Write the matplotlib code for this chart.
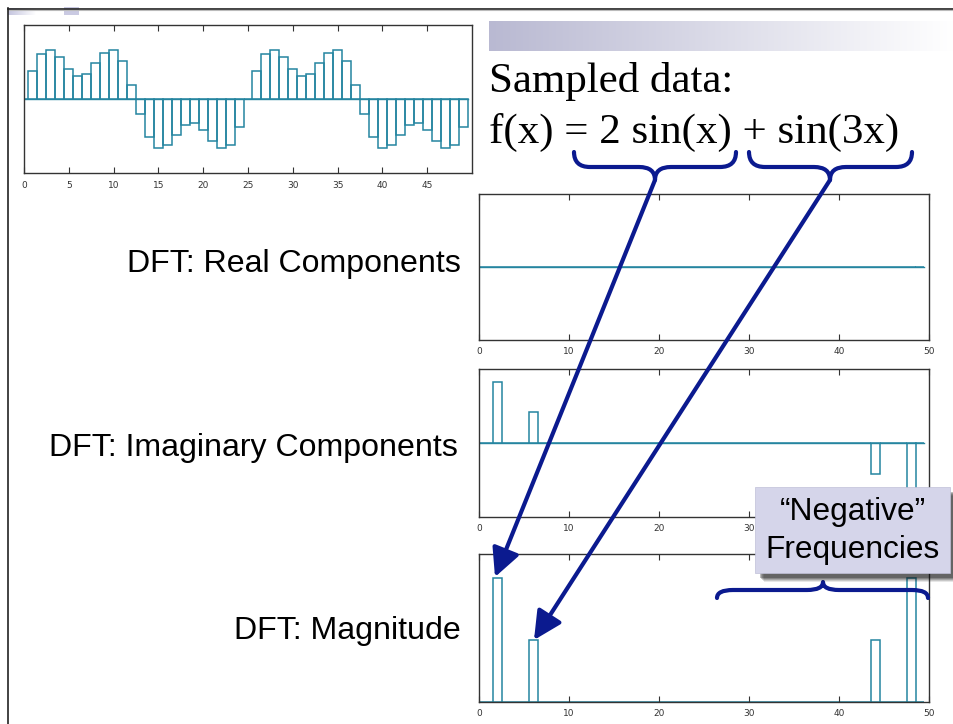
import matplotlib.pyplot as plt
import numpy as np
from matplotlib.path import Path
from matplotlib.patches import PathPatch, Rectangle, FancyArrowPatch

W, H = 954, 724

# sampled signal, one period of 25 samples (repeated twice)
period = [0.0, 1.20, 1.97, 2.14, 1.81, 1.32, 1.01, 1.10, 1.56, 2.00, 2.14, 1.65, 0.61,
          -0.64, -1.65, -2.14, -2.02, -1.58, -1.13, -1.04, -1.33, -1.82, -2.14, -2.00, -1.21]
samples = period + period
sample_ticks = [0, 5, 10, 15, 20, 25, 30, 35, 40, 45]

# DFT of the 50 samples
n_bins = 50
real_part = [0.0] * n_bins
imag_part = [0.0] * n_bins
imag_part[2] = 50
imag_part[6] = 25
imag_part[44] = -25
imag_part[48] = -50
magnitude = [abs(v) for v in imag_part]
dft_ticks = [0, 10, 20, 30, 40, 50]

teal = '#2585a0'
navy = '#0b1a8f'

fig = plt.figure(figsize=(W / 100, H / 100), dpi=100)
fig.patch.set_facecolor('white')


def px_axes(x0, y0, x1, y1, **kw):
    return fig.add_axes([x0 / W, 1 - y1 / H, (x1 - x0) / W, (y1 - y0) / H], **kw)


def style_axes(ax, ticks, ylim):
    ax.set_xlim(0, 50)
    ax.set_ylim(*ylim)
    ax.set_yticks([])
    ax.set_xticks(ticks)
    ax.tick_params(axis='x', direction='in', length=4, width=0.8, top=True,
                   labelsize=6.5, labelcolor='#333333', pad=5, color='#333333')
    for s in ax.spines.values():
        s.set_linewidth(1.0)
        s.set_color('#333333')


def draw_bars(ax, vals, zero_line=True):
    x = np.arange(len(vals))
    ax.bar(x, vals, width=1.0, fill=False, edgecolor=teal, linewidth=1.1)
    if zero_line:
        ax.plot([0, len(vals) - 0.5], [0, 0], color=teal, lw=1.0)


# slide decorations
deco = px_axes(0, 0, W, H, zorder=0)
deco.set_xlim(0, W)
deco.set_ylim(H, 0)
deco.axis('off')
grad = np.linspace(0, 1, 256).reshape(1, -1)
deco.imshow(grad, extent=(489, W, 51, 21), cmap=plt.matplotlib.colors.LinearSegmentedColormap.from_list(
    'hdr', ['#b9b9d2', '#ffffff']), aspect='auto')
deco.imshow(grad, extent=(8, 36, 15, 8), cmap=plt.matplotlib.colors.LinearSegmentedColormap.from_list(
    'hdr2', ['#c4c4de', '#ffffff']), aspect='auto')
deco.add_patch(Rectangle((64, 7), 15, 8, color='#cacae2', lw=0))
deco.plot([8, W], [8.5, 8.5], color='#222222', lw=1.2)
deco.plot([8, W], [10, 10], color='#bbbbbb', lw=0.8)
deco.plot([8.5, 8.5], [8, H], color='#222222', lw=1.2)

# sampled data plot
ax0 = px_axes(24, 25, 472, 173)
style_axes(ax0, sample_ticks, (-3.22, 3.22))
draw_bars(ax0, samples)
ax0.tick_params(axis='x', pad=6)

# DFT plots
ax_re = px_axes(479, 194, 929, 340)
style_axes(ax_re, dft_ticks, (-50, 50))
draw_bars(ax_re, real_part)

ax_im = px_axes(479, 369, 929, 517)
style_axes(ax_im, dft_ticks, (-60.6, 60.6))
draw_bars(ax_im, imag_part)

ax_mag = px_axes(479, 554, 929, 702)
style_axes(ax_mag, dft_ticks, (0, 59.7))
draw_bars(ax_mag, magnitude, zero_line=False)

# row labels
lab_font = dict(family=['Liberation Sans', 'DejaVu Sans'], fontsize=23.1, color='black',
                ha='right', va='center')
fig.text(461 / W, 1 - 264 / H, 'DFT: Real Components', **lab_font)
fig.text(458 / W, 1 - 448 / H, 'DFT: Imaginary Components', **lab_font)
fig.text(461 / W, 1 - 631 / H, 'DFT: Magnitude', **lab_font)

# overlay for titles, braces, arrows and callout
ov = px_axes(0, 0, W, H, zorder=20)
ov.set_xlim(0, W)
ov.set_ylim(H, 0)
ov.axis('off')
ov.patch.set_alpha(0)

serif = ['Liberation Serif', 'DejaVu Serif']
ov.text(489, 92, 'Sampled data:', family=serif, fontsize=31, ha='left', va='baseline')
ov.text(489, 143, 'f(x) = 2 sin(x) + sin(3x)', family=serif, fontsize=31, ha='left', va='baseline')


def brace(x0, x1, xc, y_end, y_mid, y_cusp, r=16):
    verts = [(x0, y_end), (x0, y_mid), (x0 + r, y_mid),
             (xc - r, y_mid), (xc, y_mid), (xc, y_cusp),
             (xc, y_mid), (xc + r, y_mid),
             (x1 - r, y_mid), (x1, y_mid), (x1, y_end)]
    codes = [Path.MOVETO, Path.CURVE3, Path.CURVE3,
             Path.LINETO, Path.CURVE3, Path.CURVE3,
             Path.CURVE3, Path.CURVE3,
             Path.LINETO, Path.CURVE3, Path.CURVE3]
    ov.add_patch(PathPatch(Path(verts, codes), fill=False, edgecolor=navy, lw=3.0,
                           capstyle='round', joinstyle='round'))


brace(574, 736, 655, 152, 167, 180)
brace(749, 912, 830, 152, 167, 180)
brace(717, 928, 823, 598, 590, 582)

for start, end in [((655, 180), (495, 577)), ((830, 180), (534, 640))]:
    ov.add_patch(FancyArrowPatch(start, end, arrowstyle='-|>,head_length=0.9,head_width=0.45',
                                 mutation_scale=19, color=navy, lw=3.0, shrinkA=0, shrinkB=0))

# callout box with soft shadow
bx0, by0, bx1, by1 = 755, 487, 950, 573
for i, a in enumerate([0.10, 0.14, 0.18, 0.22, 0.28]):
    off = 9 - i
    ov.add_patch(Rectangle((bx0 + off, by0 + off), bx1 - bx0 + 2 - i * 0.5, by1 - by0,
                           facecolor='#111111', alpha=a, lw=0))
ov.add_patch(Rectangle((bx0, by0), bx1 - bx0, by1 - by0, facecolor='#d5d5ea',
                       edgecolor='#c0c0d8', lw=0.5))
ov.text(853, 512, '\u201cNegative\u201d', family=['Liberation Sans', 'DejaVu Sans'],
        fontsize=22.8, ha='center', va='center')
ov.text(853, 550, 'Frequencies', family=['Liberation Sans', 'DejaVu Sans'],
        fontsize=22.8, ha='center', va='center')

fig.savefig('out.png', dpi=100)
